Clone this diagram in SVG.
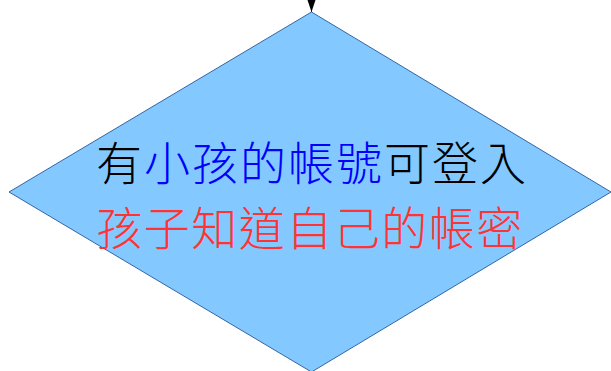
<svg xmlns="http://www.w3.org/2000/svg" width="611" height="371" viewBox="0 0 611 371">
<style>
.shape{fill:#83c9ff;stroke:#3465a4;stroke-width:1}
.t{font-family:"Noto Sans CJK TC","Noto Sans CJK SC",sans-serif;font-size:46px;font-weight:300;text-anchor:middle}
.k{fill:#000000}.b{fill:#0000ff}.r{fill:#ff3333}
</style>
<g id="connectors">
<path d="M311.5,-20 L311.5,12" stroke="#000" stroke-width="1" fill="none"/>
<path d="M307.5,0 L315.5,0 L311.5,12 Z" fill="#000"/>
</g>
<g id="decision">
<polygon class="shape" points="311.5,12 611,192 311.5,372 9,192"/>
<text class="t" x="312" y="180" letter-spacing="2"><tspan class="k">有</tspan><tspan class="b">小孩的帳號</tspan><tspan class="k">可登入</tspan></text>
<text class="t r" x="310" y="245" letter-spacing="1.5">孩子知道自己的帳密</text>
</g>
</svg>
